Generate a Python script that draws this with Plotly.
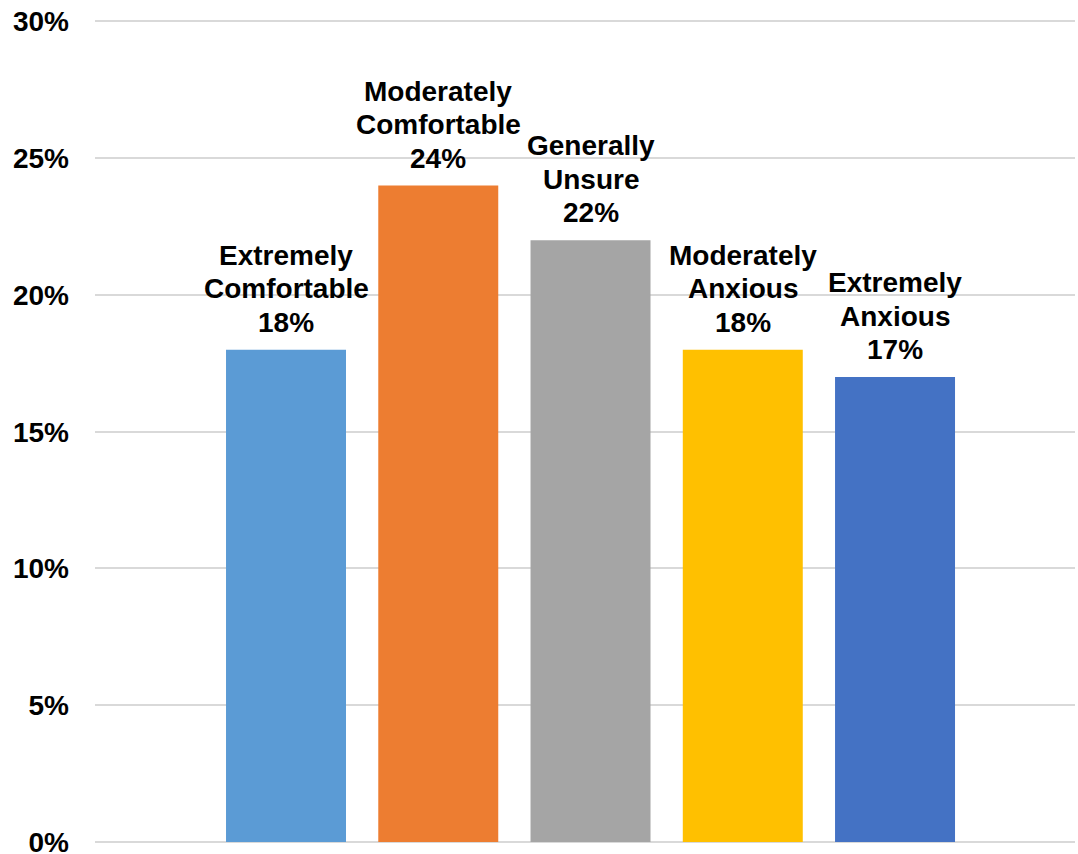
import plotly.graph_objects as go

categories = ["Extremely Comfortable", "Moderately Comfortable", "Generally Unsure",
              "Moderately Anxious", "Extremely Anxious"]
values = [18, 24, 22, 18, 17]
colors = ["#5B9BD5", "#ED7D31", "#A5A5A5", "#FFC000", "#4472C4"]
ytick_vals = [0, 5, 10, 15, 20, 25, 30]
ytick_text = ["0%", "5%", "10%", "15%", "20%", "25%", "30%"]

x_pos = list(range(len(categories)))

FONT = "Liberation Sans, Arial, sans-serif"
LABEL_SIZE = 28
LINE_STEP = 33.5
BASE_SHIFT = 10

fig = go.Figure(go.Bar(
    x=x_pos,
    y=values,
    width=0.788,
    marker=dict(color=colors, line=dict(width=0)),
    hovertext=categories,
))

# labels above each bar, one annotation per line for tight line spacing
for xp, cat, val in zip(x_pos, categories, values):
    lines = cat.split(" ") + [f"{val}%"]
    for k, line in enumerate(reversed(lines)):
        fig.add_annotation(
            x=xp, y=val, xref="x", yref="y",
            text=f"<b>{line}</b>", showarrow=False,
            yanchor="bottom", xanchor="center",
            yshift=BASE_SHIFT + k * LINE_STEP,
            font=dict(family=FONT, size=LABEL_SIZE, color="black"),
        )

fig.update_layout(
    width=1078, height=854,
    margin=dict(l=95, r=3, t=16, b=12),
    paper_bgcolor="white", plot_bgcolor="white",
    showlegend=False,
    font=dict(family=FONT, color="black"),
    xaxis=dict(range=[-1.2545, 5.182], showticklabels=False, showgrid=False,
               zeroline=False, showline=False, ticks="", automargin=False),
    yaxis=dict(range=[0, 30.2], tickvals=ytick_vals, ticktext=ytick_text,
               tickfont=dict(family=FONT, size=28, color="black", weight="bold"),
               showgrid=True, gridcolor="#D9D9D9", gridwidth=2,
               zeroline=True, zerolinecolor="#D9D9D9", zerolinewidth=2,
               showline=False, ticks="", ticklabelstandoff=25,
               ticklabeloverflow="allow", automargin=False),
)

fig.write_html("out.html")
